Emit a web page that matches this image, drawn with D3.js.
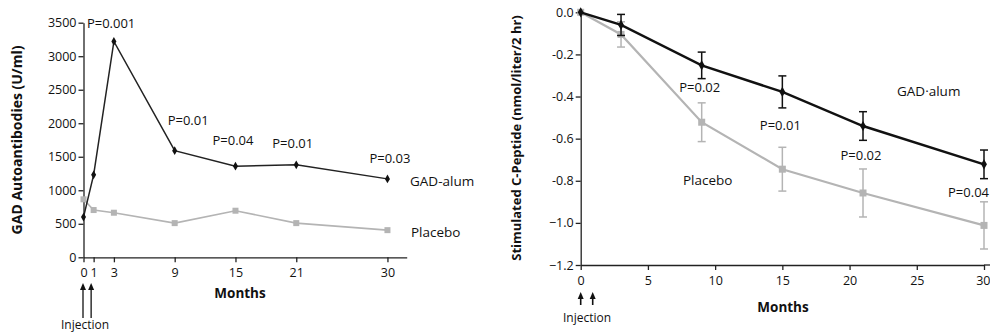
<!DOCTYPE html>
<html><head><meta charset="utf-8">
<script src="https://cdn.jsdelivr.net/npm/d3@7"></script>
<style>body{margin:0;background:#fff}svg{display:block}text{font-family:"Open Sans",sans-serif;fill:#111}</style>
</head><body><svg id="c" width="990" height="332"></svg>
<script>
// Left panel: GAD autoantibodies
const monthsLeft = [0, 1, 3, 9, 15, 21, 30];
const gadAntibody = [600, 1230, 3220, 1590, 1360, 1380, 1170];
const placeboAntibody = [865, 705, 665, 510, 695, 510, 405];
const leftYTicks = [0, 500, 1000, 1500, 2000, 2500, 3000, 3500];
const leftPLabels = ["P=0.001", "P=0.01", "P=0.04", "P=0.01", "P=0.03"];
const leftPMonths = [3, 9, 15, 21, 30];

// Right panel: stimulated C-peptide change
const monthsRight = [0, 3, 9, 15, 21, 30];
const gadPeptide = [0, -0.06, -0.252, -0.378, -0.54, -0.722];
const gadPeptideErr = [0, 0.05, 0.063, 0.076, 0.068, 0.068];
const placeboPeptide = [0, -0.105, -0.522, -0.745, -0.858, -1.012];
const placeboPeptideErr = [0, 0.06, 0.092, 0.104, 0.114, 0.112];
const rightXTicks = [0, 5, 10, 15, 20, 25, 30];
const rightYTicks = [0, -0.2, -0.4, -0.6, -0.8, -1.0, -1.2];
const rightYTickLabels = ["0.0", "-0.2", "-0.4", "-0.6", "-0.8", "\u22121.0", "\u22121.2"];
const rightPLabels = ["P=0.02", "P=0.01", "P=0.02", "P=0.04"];
const rightPMonths = [9, 15, 21, 30];

const svg = d3.select("#c");
const BLACK = "#111", GRAY = "#b4b4b4";

function arrow(g, x, yTop, yBot, w) {
  g.append("line").attr("x1", x).attr("x2", x).attr("y1", yBot).attr("y2", yTop + 5)
    .attr("stroke", BLACK).attr("stroke-width", w);
  g.append("path").attr("d", `M${x - 3},${yTop + 7} L${x},${yTop} L${x + 3},${yTop + 7} Z`).attr("fill", BLACK);
}
function styleAxis(a) {
  a.selectAll("path,line").attr("stroke", "#222").attr("stroke-width", 1.3);
  a.selectAll("text").attr("font-size", 12.5).attr("fill", "#111").style("font-family", "'Open Sans',sans-serif");
}

// ---------- LEFT ----------
const xL = d3.scaleLinear().domain([0, 31.9]).range([83.5, 406.7]);
const yL = d3.scaleLinear().domain([0, 3500]).range([257.3, 22.7]);
const gL = svg.append("g");

const axL = gL.append("g").attr("transform", "translate(0,257.3)")
  .call(d3.axisBottom(xL).tickValues(monthsLeft).tickSize(5).tickSizeOuter(0).tickFormat(d3.format("d")));
const ayL = gL.append("g").attr("transform", "translate(83.5,0)")
  .call(d3.axisLeft(yL).tickValues(leftYTicks).tickSize(5).tickSizeOuter(0).tickFormat(d3.format("d")));
styleAxis(axL); styleAxis(ayL);
axL.selectAll("text").attr("dy", "0.95em");
ayL.selectAll("text").attr("x", -7);

const lineL = d3.line().x((d, i) => xL(monthsLeft[i])).y(d => yL(d));
gL.append("path").datum(placeboAntibody).attr("d", lineL).attr("fill", "none").attr("stroke", GRAY).attr("stroke-width", 1.6);
gL.selectAll(".psq").data(placeboAntibody).enter().append("rect")
  .attr("x", (d, i) => xL(monthsLeft[i]) - 3).attr("y", d => yL(d) - 3).attr("width", 6).attr("height", 6).attr("fill", GRAY);
gL.append("path").datum(gadAntibody).attr("d", lineL).attr("fill", "none").attr("stroke", "#222").attr("stroke-width", 1.5);
gL.selectAll(".gdm").data(gadAntibody).enter().append("path")
  .attr("d", d3.symbol(d3.symbolDiamond, 22))
  .attr("transform", (d, i) => `translate(${xL(monthsLeft[i])},${yL(d)})`).attr("fill", BLACK);

const leftPOffsets = [[-27, -13], [-7, -26], [-23, -21], [-24, -17], [-18, -16]];
leftPLabels.forEach((t, i) => {
  const m = leftPMonths[i];
  const v = gadAntibody[monthsLeft.indexOf(m)];
  gL.append("text").attr("x", xL(m) + leftPOffsets[i][0]).attr("y", yL(v) + leftPOffsets[i][1])
    .attr("font-size", 13).text(t);
});
gL.append("text").attr("x", 410).attr("y", 186).attr("font-size", 13.5).text("GAD-alum");
gL.append("text").attr("x", 411).attr("y", 237).attr("font-size", 13.5).text("Placebo");
gL.append("text").attr("x", 240).attr("y", 298).attr("text-anchor", "middle").attr("font-size", 13.5).attr("font-weight", "bold").text("Months");
gL.append("text").attr("transform", "translate(22,140) rotate(-90)").attr("text-anchor", "middle")
  .attr("font-size", 14).attr("font-weight", "bold").text("GAD Autoantibodies (U/ml)");

arrow(gL, xL(0) - 0.5, 283, 318, 1.3);
arrow(gL, xL(1) - 2.5, 283, 318, 1.3);
gL.append("text").attr("x", 85).attr("y", 329).attr("text-anchor", "middle").attr("font-size", 12).text("Injection");

// ---------- RIGHT ----------
const xR = d3.scaleLinear().domain([0, 30]).range([580.7, 984]);
const yR = d3.scaleLinear().domain([-1.2, 0]).range([265, 12.3]);
const gR = svg.append("g");
const axR = gR.append("g").attr("transform", "translate(0,265)")
  .call(d3.axisBottom(xR).tickValues(rightXTicks).tickSize(5).tickSizeOuter(0));
gR.append("line").attr("x1", xR(30)).attr("x2", 990).attr("y1", 265).attr("y2", 265).attr("stroke", "#222").attr("stroke-width", 1.3);
const ayR = gR.append("g").attr("transform", "translate(580.7,0)")
  .call(d3.axisLeft(yR).tickValues(rightYTicks).tickSize(5).tickSizeOuter(0).tickFormat((d, i) => rightYTickLabels[i]));
styleAxis(axR); styleAxis(ayR);
axR.selectAll("text").attr("dy", "0.95em");
axR.selectAll(".tick").filter(d => d === 30).select("text").attr("text-anchor", "end").attr("x", 6);
ayR.selectAll("text").attr("x", -7);

function drawSeries(vals, errs, color, width, marker) {
  const line = d3.line().x((d, i) => xR(monthsRight[i])).y(d => yR(d));
  gR.append("path").datum(vals).attr("d", line).attr("fill", "none").attr("stroke", color).attr("stroke-width", width);
  vals.forEach((v, i) => {
    const x = xR(monthsRight[i]);
    if (errs[i] > 0) {
      const y1 = yR(v + errs[i]), y2 = yR(v - errs[i]);
      gR.append("line").attr("x1", x).attr("x2", x).attr("y1", y1).attr("y2", y2).attr("stroke", color).attr("stroke-width", 1.5);
      [y1, y2].forEach(yy => gR.append("line").attr("x1", x - 4).attr("x2", x + 4).attr("y1", yy).attr("y2", yy).attr("stroke", color).attr("stroke-width", 1.5));
    }
    if (marker === "sq") gR.append("rect").attr("x", x - 3.5).attr("y", yR(v) - 3.5).attr("width", 7).attr("height", 7).attr("fill", color);
    else gR.append("path").attr("d", d3.symbol(d3.symbolDiamond, 30)).attr("transform", `translate(${x},${yR(v)})`).attr("fill", color);
  });
}
drawSeries(placeboPeptide, placeboPeptideErr, GRAY, 2.2, "sq");
drawSeries(gadPeptide, gadPeptideErr, BLACK, 2.4, "dm");

const rightPPos = [[-2, 92, "middle"], [-2, 130, "middle"], [-2, 160, "middle"], [5, 197, "end"]];
rightPLabels.forEach((t, i) => {
  const m = rightPMonths[i];
  gR.append("text").attr("x", xR(m) + rightPPos[i][0]).attr("y", rightPPos[i][1]).attr("text-anchor", rightPPos[i][2])
    .attr("font-size", 13).text(t);
});
gR.append("text").attr("x", 897).attr("y", 96).attr("font-size", 13.5).text("GAD\u00b7alum");
gR.append("text").attr("x", 683).attr("y", 185).attr("font-size", 13.5).text("Placebo");
gR.append("text").attr("x", 783).attr("y", 312).attr("text-anchor", "middle").attr("font-size", 13.5).attr("font-weight", "bold").text("Months");
gR.append("text").attr("transform", "translate(521,138) rotate(-90)").attr("text-anchor", "middle")
  .attr("font-size", 13).attr("font-weight", "bold").text("Stimulated C-Peptide (nmol/liter/2 hr)");
arrow(gR, xR(0), 292, 305, 1.6);
arrow(gR, xR(0) + 12, 292, 305, 1.6);
gR.append("text").attr("x", 587).attr("y", 322).attr("text-anchor", "middle").attr("font-size", 12).text("Injection");
</script></body></html>
